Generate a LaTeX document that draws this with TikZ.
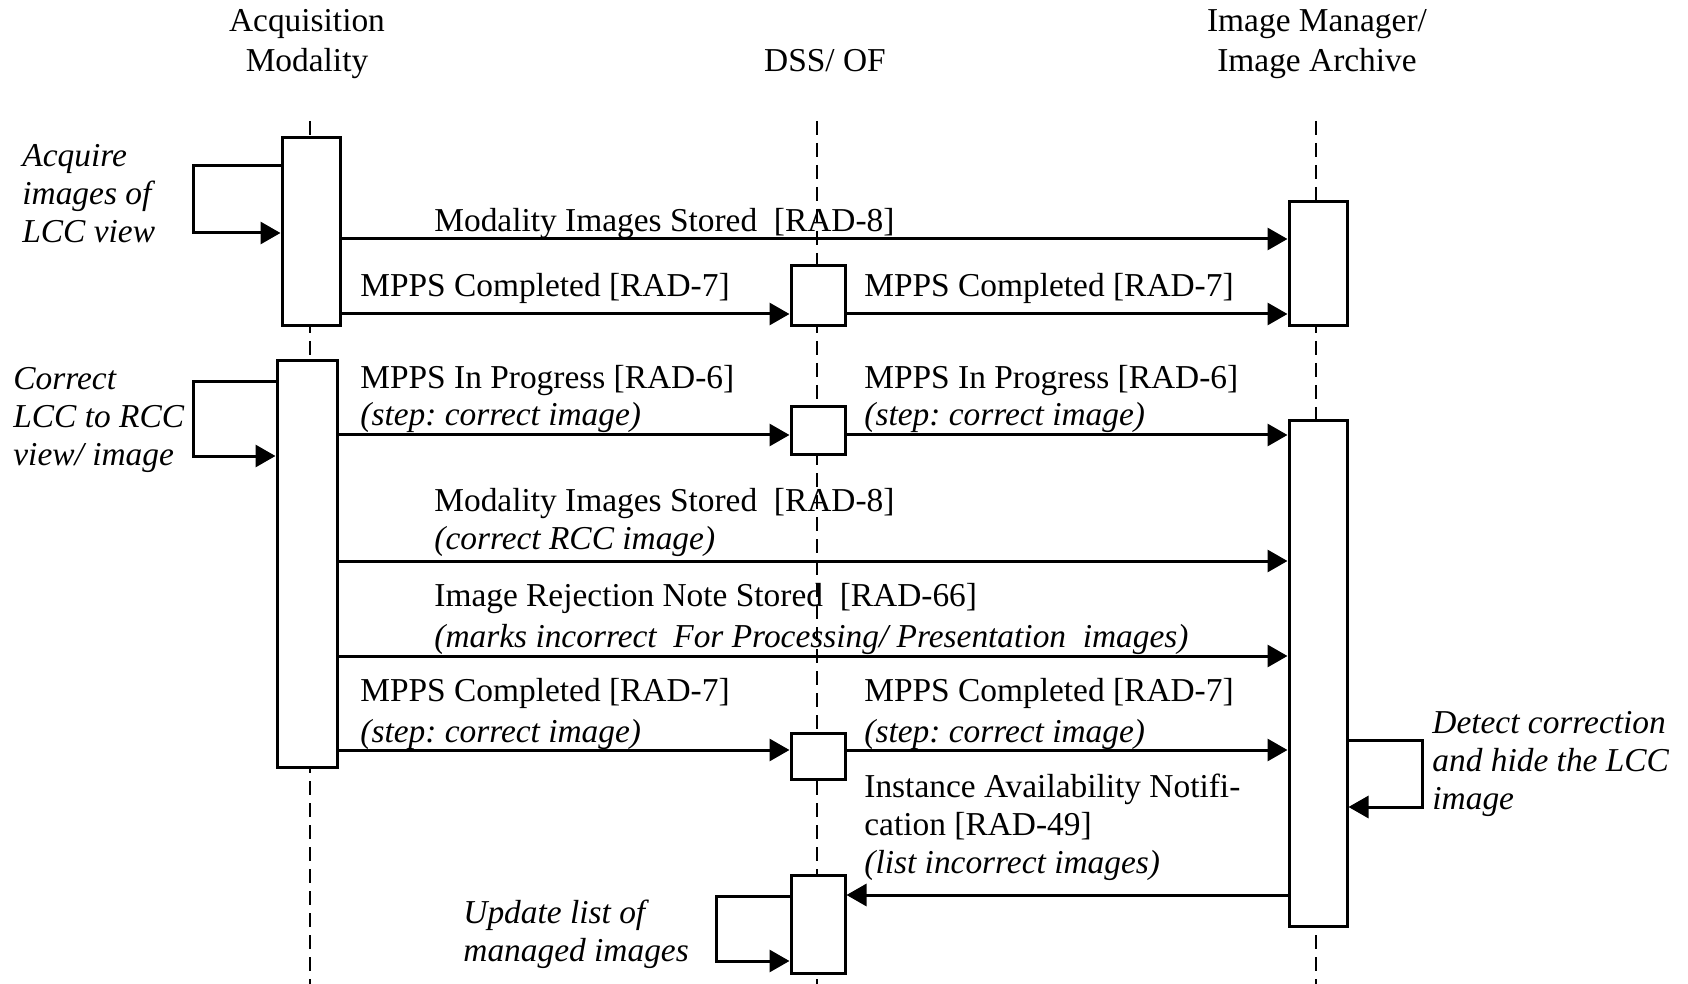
\documentclass[tikz,border=0pt]{standalone}
\usepackage{fontspec}
\setmainfont{Liberation Serif}
\usetikzlibrary{positioning, arrows.meta}
\frenchspacing

\tikzset{
  lifeline/.style={line width=1.3pt, dash pattern=on 7pt off 4pt},
  actbox/.style={draw, fill=white, line width=1.5pt, inner sep=0pt, minimum width=29pt},
  msg/.style={line width=1.5pt, -{Triangle[length=10pt,width=11pt]}},
  lbl/.style={inner sep=0pt, anchor=base west, align=left, font=\fontsize{16.7}{19}\selectfont},
  note/.style={lbl, font=\fontsize{16.7}{19}\selectfont\itshape},
  actor/.style={inner sep=0pt, anchor=base, align=center, font=\fontsize{16.7}{20}\selectfont},
}

\begin{document}
\begin{tikzpicture}[x=0.5pt, y=-0.5pt]
  \useasboundingbox (0,0) rectangle (1688,984);

  % actors (base = last line)
  \node[actor] (acq) at (307,72) {Acquisition\\Modality};
  \node[actor] (dss) at (825,72) {DSS/ OF};
  \node[actor] (img) at (1317,72) {Image Manager/\\Image Archive};

  % lifelines
  \coordinate (acqtop) at (310,121);  \coordinate (acqbot) at (310,984);
  \coordinate (dsstop) at (817,121);  \coordinate (dssbot) at (817,984);
  \coordinate (imgtop) at (1316,121); \coordinate (imgbot) at (1316,984);
  \draw[lifeline] (acqtop) -- (acqbot);
  \draw[lifeline] (dsstop) -- (dssbot);
  \draw[lifeline] (imgtop) -- (imgbot);

  % activation boxes
  \node[actbox, minimum height=94pt] (a1) at (311,232) {};
  \node[actbox, minimum width=30pt, minimum height=203pt] (a2) at (307,564) {};
  \node[actbox, minimum width=27pt, minimum height=30pt] (d1) at (818,296) {};
  \node[actbox, minimum width=27pt, minimum height=23.5pt] (d2) at (818,430.5) {};
  \node[actbox, minimum width=27pt, minimum height=23pt] (d3) at (818,756) {};
  \node[actbox, minimum width=27pt, minimum height=49pt] (d4) at (818,924) {};
  \node[actbox, minimum height=62pt] (i1) at (1318,264) {};
  \node[actbox, minimum height=252.5pt] (i2) at (1318,673.5) {};

  % messages
  \draw[msg] (a1.east |- 0,239) -- (i1.west |- 0,239);
  \draw[msg] (a1.east |- 0,314) -- (d1.west |- 0,314);
  \draw[msg] (d1.east |- 0,314) -- (i1.west |- 0,314);
  \draw[msg] (a2.east |- 0,435) -- (d2.west |- 0,435);
  \draw[msg] (d2.east |- 0,435) -- (i2.west |- 0,435);
  \draw[msg] (a2.east |- 0,561) -- (i2.west |- 0,561);
  \draw[msg] (a2.east |- 0,656) -- (i2.west |- 0,656);
  \draw[msg] (a2.east |- 0,750) -- (d3.west |- 0,750);
  \draw[msg] (d3.east |- 0,750) -- (i2.west |- 0,750);
  \draw[msg] (i2.west |- 0,895) -- (d4.east |- 0,895);

  % self calls
  \draw[msg] (a1.west |- 0,166) -- ++(-87,0) |- (a1.west |- 0,233);
  \draw[msg] (a2.west |- 0,382) -- ++(-82,0) |- (a2.west |- 0,456);
  \draw[msg] (i2.east |- 0,740) -- ++(74,0) |- (i2.east |- 0,807);
  \draw[msg] (d4.west |- 0,896) -- ++(-73,0) |- (d4.west |- 0,961);

  % message labels (base = last line)
  \node[lbl] (m1) at (434,232) {Modality Images Stored\ \ [RAD-8]};
  \node[lbl] (m2) at (360,297) {MPPS Completed [RAD-7]};
  \node[lbl] (m3) at (864,297) {MPPS Completed [RAD-7]};
  \node[lbl] (m4) at (360,426) {MPPS In Progress [RAD-6]\\\textit{(step: correct image)}};
  \node[lbl] (m5) at (864,426) {MPPS In Progress [RAD-6]\\\textit{(step: correct image)}};
  \node[lbl] (m6) at (434,549) {Modality Images Stored\ \ [RAD-8]\\\textit{(correct RCC image)}};
  \node[lbl] (m7) at (434,647) {Image Rejection Note Stored\ \ [RAD-66]\\[1.5pt]\textit{(marks incorrect\ \ For Processing/ Presentation\ \ images)}};
  \node[lbl] (m8) at (360,742) {MPPS Completed [RAD-7]\\[1.5pt]\textit{(step: correct image)}};
  \node[lbl] (m9) at (864,742) {MPPS Completed [RAD-7]\\[1.5pt]\textit{(step: correct image)}};
  \node[lbl] (m10) at (864,873) {Instance Availability Notifi-\\cation [RAD-49]\\\textit{(list incorrect images)}};

  % notes
  \node[note] (n1) at (22,243) {Acquire\\images of\\LCC view};
  \node[note] (n2) at (13,466) {Correct\\LCC to RCC\\view/ image};
  \node[note] (n3) at (1432,809) {Detect correction\\and hide the LCC\\image};
  \node[note] (n4) at (463,961) {Update list of\\managed images};
\end{tikzpicture}
\end{document}
